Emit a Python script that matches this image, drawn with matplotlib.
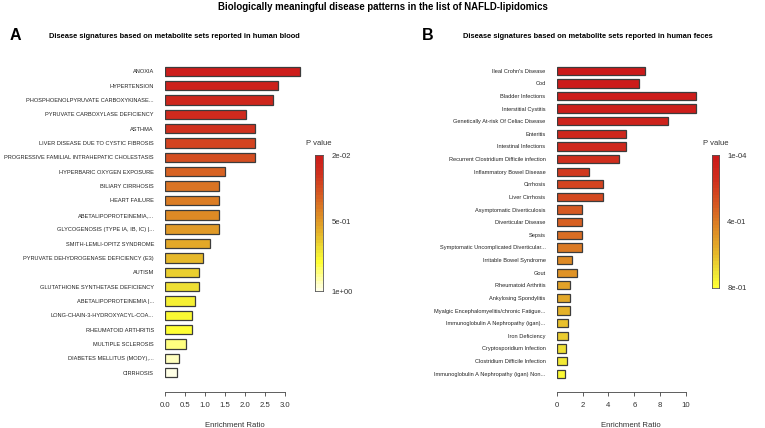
import numpy as np
import matplotlib
matplotlib.use("Agg")
import matplotlib.pyplot as plt
from matplotlib.colors import LinearSegmentedColormap, Normalize

plt.rcParams['font.family'] = ['Liberation Sans', 'DejaVu Sans']

# Panel A: metabolite sets reported in human blood
blood_sets = ["ANOXIA", "HYPERTENSION", "PHOSPHOENOLPYRUVATE CARBOXYKINASE...",
              "PYRUVATE CARBOXYLASE DEFICIENCY", "ASTHMA",
              "LIVER DISEASE DUE TO CYSTIC FIBROSIS",
              "PROGRESSIVE FAMILIAL INTRAHEPATIC CHOLESTASIS",
              "HYPERBARIC OXYGEN EXPOSURE", "BILIARY CIRRHOSIS", "HEART FAILURE",
              "ABETALIPOPROTEINEMIA,...", "GLYCOGENOSIS (TYPE IA, IB, IC) |...",
              "SMITH-LEMLI-OPITZ SYNDROME", "PYRUVATE DEHYDROGENASE DEFICIENCY (E3)",
              "AUTISM", "GLUTATHIONE SYNTHETASE DEFICIENCY", "ABETALIPOPROTEINEMIA |...",
              "LONG-CHAIN-3-HYDROXYACYL-COA...", "RHEUMATOID ARTHRITIS",
              "MULTIPLE SCLEROSIS", "DIABETES MELLITUS (MODY),...", "CIRRHOSIS"]
blood_ratio = [3.38, 2.82, 2.69, 2.03, 2.24, 2.24, 2.24, 1.50, 1.35, 1.35, 1.35,
               1.35, 1.12, 0.96, 0.85, 0.85, 0.76, 0.68, 0.68, 0.52, 0.36, 0.29]
blood_p = [0.02, 0.05, 0.08, 0.11, 0.15, 0.22, 0.26, 0.33, 0.38, 0.41, 0.45,
           0.50, 0.55, 0.60, 0.66, 0.70, 0.75, 0.78, 0.80, 0.88, 0.95, 1.0]
blood_ticks = [0.02, 0.5, 1.0]
blood_tick_labels = ["2e-02", "5e-01", "1e+00"]

# Panel B: metabolite sets reported in human feces
feces_sets = ["Ileal Crohn's Disease", "Cod", "Bladder Infections", "Interstitial Cystitis",
              "Genetically At-risk Of Celiac Disease", "Enteritis", "Intestinal Infections",
              "Recurrent Clostridium Difficile infection", "Inflammatory Bowel Disease",
              "Cirrhosis", "Liver Cirrhosis", "Asymptomatic Diverticulosis",
              "Diverticular Disease", "Sepsis", "Symptomatic Uncomplicated Diverticular...",
              "Irritable Bowel Syndrome", "Gout", "Rheumatoid Arthritis",
              "Ankylosing Spondylitis", "Myalgic Encephalomyelitis/chronic Fatigue...",
              "Immunoglobulin A Nephropathy (igan)...", "Iron Deficiency",
              "Cryptosporidium Infection", "Clostridium Difficile Infection",
              "Immunoglobulin A Nephropathy (igan) Non..."]
feces_ratio = [6.8, 6.34, 10.77, 10.77, 8.58, 5.39, 5.39, 4.8, 2.52, 3.6, 3.6,
               1.98, 1.98, 1.98, 1.98, 1.16, 1.57, 1.05, 1.05, 1.0, 0.9, 0.9,
               0.75, 0.8, 0.67]
feces_p = [0.0001, 0.01, 0.02, 0.03, 0.06, 0.09, 0.10, 0.14, 0.18, 0.22, 0.24,
           0.30, 0.32, 0.36, 0.40, 0.45, 0.48, 0.53, 0.55, 0.58, 0.62, 0.65,
           0.70, 0.73, 0.78]
feces_ticks = [0.0001, 0.4, 0.8]
feces_tick_labels = ["1e-04", "4e-01", "8e-01"]

# red -> orange -> yellow -> white, over the p value
pcmap = LinearSegmentedColormap.from_list("pval", [
    (0.0, "#CC1A1A"), (0.15, "#D0301E"), (0.3, "#D65A22"), (0.45, "#DE8A25"),
    (0.6, "#E6B82A"), (0.72, "#F0E635"), (0.8, "#FFFF33"), (0.9, "#FFFF90"),
    (1.0, "#FFFFE6")])
pnorm = Normalize(0, 1)

W, H = 765, 428
fig = plt.figure(figsize=(W / 100, H / 100), dpi=100)


def px_axes(x0, y0, x1, y1):
    # axes placed by pixel box (top-left origin)
    return fig.add_axes([x0 / W, 1 - y1 / H, (x1 - x0) / W, (y1 - y0) / H])


def bar_panel(box, names, ratio, pvals, xmax, xticks, tick_fmt):
    ax = px_axes(*box)
    # spine position first: moving it resets the ticks
    for s in ["top", "right", "left"]:
        ax.spines[s].set_visible(False)
    ax.spines["bottom"].set_position(("outward", 8.6))
    ax.spines["bottom"].set_linewidth(0.6)
    ax.spines["bottom"].set_color("#444444")

    y = np.arange(len(names))
    ax.barh(y, ratio, height=0.66, color=pcmap(pnorm(pvals)),
            edgecolor="#3c3c3c", linewidth=0.9)
    ax.set_ylim(len(names) - 0.5, -0.5)
    ax.set_xlim(0, xmax)
    ax.set_yticks(y)
    ax.set_yticklabels(names, fontsize=4.05, color="#222222")
    ax.tick_params(axis="y", length=0, pad=8)
    ax.set_xticks(xticks)
    ax.set_xticklabels([tick_fmt(t) for t in xticks], fontsize=5.6, color="#333333")
    ax.tick_params(axis="x", length=3, width=0.6, color="#444444", pad=4)
    ax.spines["bottom"].set_bounds(xticks[0], xticks[-1])
    ax.set_xlabel("Enrichment Ratio", fontsize=5.6, color="#333333", labelpad=9.5)
    return ax


def p_colorbar(box, ticks, labels):
    ax = px_axes(*box)
    grad = np.linspace(ticks[0], ticks[-1], 40).reshape(-1, 1)
    ax.imshow(grad, aspect="auto", cmap=pcmap, norm=pnorm,
              extent=[0, 1, ticks[-1], ticks[0]], interpolation="nearest")
    ax.set_ylim(ticks[-1], ticks[0])
    ax.set_xticks([])
    ax.yaxis.tick_right()
    ax.set_yticks(ticks)
    ax.set_yticklabels(labels, fontsize=5.5, color="#333333")
    ax.tick_params(axis="y", length=0, pad=6)
    for s in ax.spines.values():
        s.set_linewidth(0.6)
        s.set_color("#555555")
    ax.set_title("P value", fontsize=5.5, color="#333333", pad=7)


bar_panel((165, 64.1, 305, 379.9), blood_sets, blood_ratio, blood_p, 3.5,
          [0, 0.5, 1.0, 1.5, 2.0, 2.5, 3.0], lambda t: f"{t:.1f}")
bar_panel((556.7, 64.4, 705.4, 380), feces_sets, feces_ratio, feces_p, 11.5,
          [0, 2, 4, 6, 8, 10], lambda t: f"{t:d}")

p_colorbar((315, 155, 323, 291), blood_ticks, blood_tick_labels)
p_colorbar((711.7, 155, 719, 288), feces_ticks, feces_tick_labels)

fig.text(383 / W, 1 - 7 / H, "Biologically meaningful disease patterns in the list of NAFLD-lipidomics",
         ha="center", va="center", fontsize=6.9, fontweight="bold")
fig.text(10 / W, 1 - 36 / H, "A", ha="left", va="center", fontsize=11.5, fontweight="bold")
fig.text(422 / W, 1 - 36 / H, "B", ha="left", va="center", fontsize=11.5, fontweight="bold")
fig.text(49 / W, 1 - 36 / H, "Disease signatures based on metabolite sets reported in human blood",
         ha="left", va="center", fontsize=5.4, fontweight="bold")
fig.text(463 / W, 1 - 36 / H, "Disease signatures based on metabolite sets reported in human feces",
         ha="left", va="center", fontsize=5.4, fontweight="bold")

fig.savefig("out.png", dpi=100)
